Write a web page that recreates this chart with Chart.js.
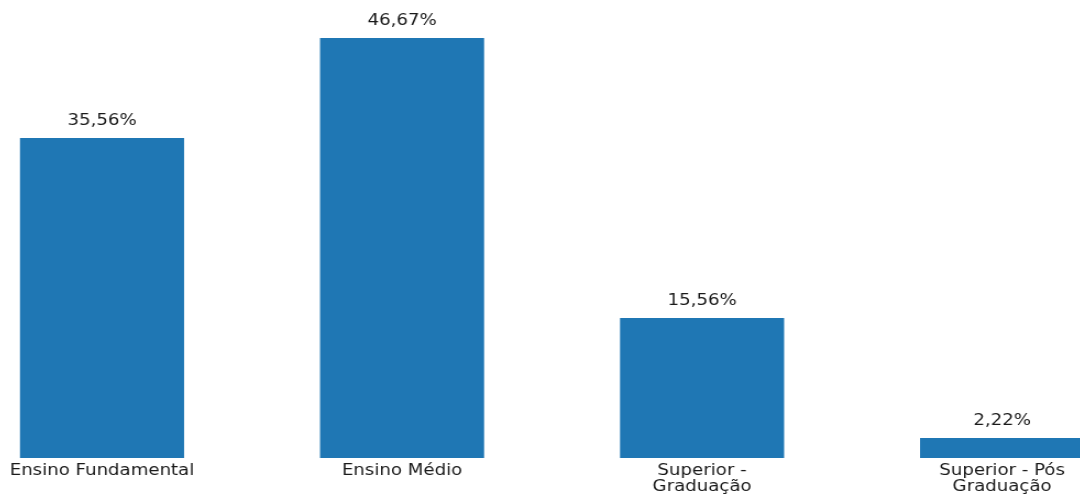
<!DOCTYPE html>
<html>
<head>
<meta charset="utf-8">
<script src="https://cdn.jsdelivr.net/npm/chart.js@4/dist/chart.umd.min.js"></script>
<style>
html,body{margin:0;padding:0;background:#fff;overflow:hidden;width:1080px;height:496px}
#wrap{position:absolute;left:-48px;top:0;width:1091px;height:496px;transform:scaleX(1.1);transform-origin:0 0}
</style>
</head>
<body>
<div id="wrap"><canvas id="c" width="1091" height="496"></canvas></div>
<script>
// escolaridade
const categorias=[['Ensino Fundamental'],['Ensino Médio'],['Superior -','Graduação'],['Superior - Pós','Graduação']];
const percentuais=[35.56,46.67,15.56,2.22];
const FONT='"DejaVu Sans", sans-serif';

const rotulos={
  id:'rotulos',
  afterDatasetsDraw(chart){
    const ctx=chart.ctx;
    const meta=chart.getDatasetMeta(0);
    ctx.save();
    ctx.font='16.5px '+FONT;
    ctx.fillStyle='#1a1a1a';
    ctx.textAlign='center';
    ctx.textBaseline='alphabetic';
    meta.data.forEach((bar,i)=>{
      ctx.fillText(percentuais[i].toFixed(2).replace('.',',')+'%',bar.x,bar.y-13);
    });
    ctx.restore();
  }
};

new Chart(document.getElementById('c'),{
  type:'bar',
  data:{labels:categorias,datasets:[{data:percentuais,backgroundColor:'#1f77b4',borderWidth:0,barPercentage:0.547,categoryPercentage:1}]},
  options:{
    responsive:false,animation:false,
    layout:{padding:0},
    plugins:{legend:{display:false},tooltip:{enabled:false}},
    scales:{
      x:{
        grid:{display:false,drawTicks:false},border:{display:false},
        ticks:{color:'#1a1a1a',font:{family:FONT,size:16.5,lineHeight:1},padding:4,maxRotation:0,autoSkip:false},
        afterFit(s){s.height=38;}
      },
      y:{display:false,min:0,max:458/9}
    }
  },
  plugins:[rotulos]
});
</script>
</body>
</html>
